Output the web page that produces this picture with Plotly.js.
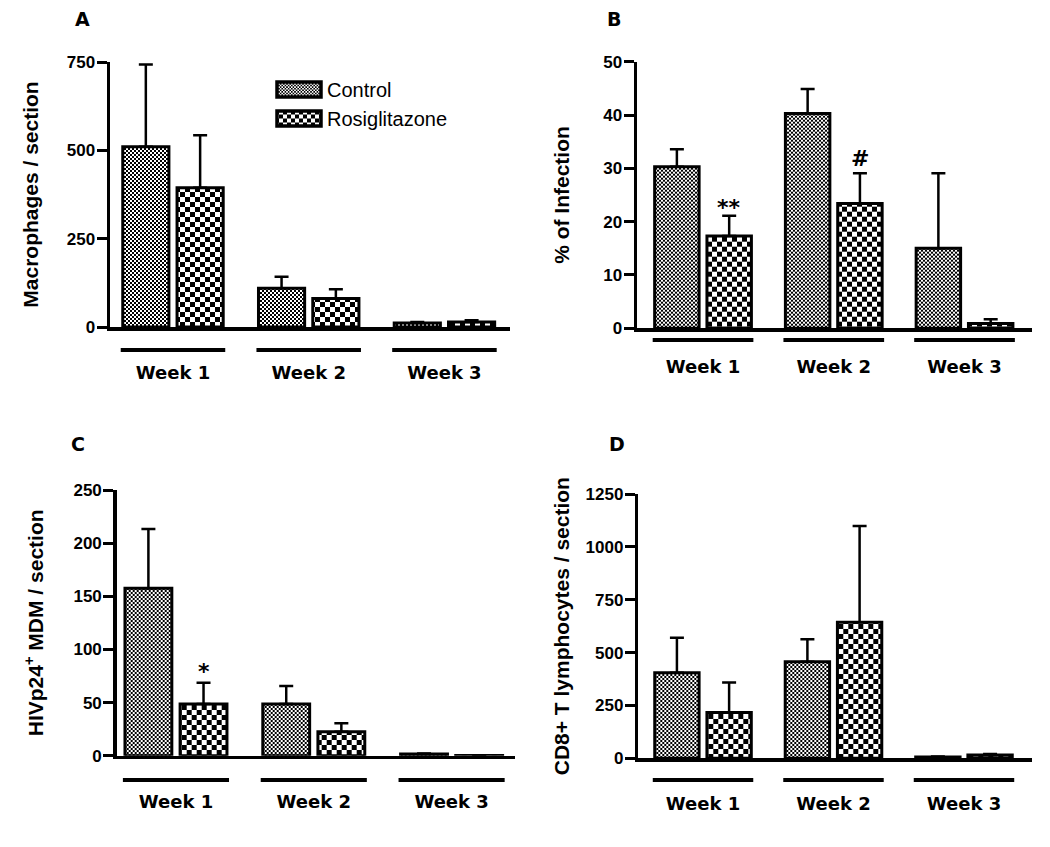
<!DOCTYPE html>
<html>
<head>
<meta charset="utf-8">
<script src="https://cdn.plot.ly/plotly-3.0.1.min.js"></script>
<style>html,body{margin:0;padding:0;background:#fff;}#gd{width:1050px;height:847px;}</style>
</head>
<body>
<div id="gd"></div>
<script>
// ---------- DATA ----------
var categories = ['Week 1', 'Week 2', 'Week 3'];
var seriesNames = ['Control', 'Rosiglitazone'];

// Panel A: Macrophages / section
var macroControl = [510, 110, 11];
var macroControlErr = [233, 32, 3];
var macroRosi = [394, 81, 14];
var macroRosiErr = [149, 26, 5];

// Panel B: % of Infection
var infControl = [30.3, 40.3, 15.0];
var infControlErr = [3.3, 4.6, 14.1];
var infRosi = [17.3, 23.4, 0.9];
var infRosiErr = [3.8, 5.7, 0.8];

// Panel C: HIVp24+ MDM / section
var hivControl = [157.5, 48.6, 1.5];
var hivControlErr = [55.8, 17.0, 0.6];
var hivRosi = [48.6, 22.6, 0.3];
var hivRosiErr = [20.1, 7.9, 0.1];

// Panel D: CD8+ T lymphocytes / section
var cd8Control = [405, 457, 6];
var cd8ControlErr = [165, 106, 3];
var cd8Rosi = [217, 643, 16];
var cd8RosiErr = [142, 456, 4];

var yTicksA = [0, 250, 500, 750];
var yTicksB = [0, 10, 20, 30, 40, 50];
var yTicksC = [0, 50, 100, 150, 200, 250];
var yTicksD = [0, 250, 500, 750, 1000, 1250];

var panelLetters = ['A', 'B', 'C', 'D'];
var yTitles = ['Macrophages / section', '% of Infection',
               'HIVp24<sup>+</sup> MDM / section', 'CD8+ T lymphocytes / section'];
// significance marks: [panel, series index, category index, text]
var sigMarks = [[1, 1, 0, '**'], [1, 1, 1, '#'], [2, 1, 0, '*']];

// ---------- STYLE ----------
var BARGAP = 0.2, GROUPGAP = 0.15;
var tickFont = {family: 'Liberation Sans, Arial', size: 17, weight: 'bold', color: '#000'};
var catFont = {family: 'DejaVu Sans', size: 18, weight: 'bold', color: '#000'};
var titleFont = {family: 'Liberation Sans, Arial', size: 21, weight: 'bold', color: '#000'};
var patControl = {shape: '.', size: 4, solidity: 0.5, fgcolor: '#000', bgcolor: '#fff', fillmode: 'replace'};
var patRosi = {shape: '.', size: 10, solidity: 0.5, fgcolor: '#000', bgcolor: '#fff', fillmode: 'replace'};

var panels = [
  {ctl: macroControl, ctlE: macroControlErr, ros: macroRosi, rosE: macroRosiErr, ticks: yTicksA,
   xdom: [110/1050, 510/1050], ydom: [1-327/847, 1-62/847], xr: [-0.464, 2.483],
   lineY: 1-350/847, standoff: 27, titleStandoff: 23, letterXY: [82.5, 18.5]},
  {ctl: infControl, ctlE: infControlErr, ros: infRosi, rosE: infRosiErr, ticks: yTicksB,
   xdom: [637/1050, 1032/1050], ydom: [1-328.3/847, 1-61.7/847], xr: [-0.505, 2.516],
   lineY: 1-340/847, standoff: 20, titleStandoff: 29, letterXY: [614, 19]},
  {ctl: hivControl, ctlE: hivControlErr, ros: hivRosi, rosE: hivRosiErr, ticks: yTicksC,
   xdom: [116.7/1050, 515/1050], ydom: [1-755.7/847, 1-490/847], xr: [-0.43, 2.46],
   lineY: 1-780/847, standoff: 27, titleStandoff: 25, letterXY: [78, 444]},
  {ctl: cd8Control, ctlE: cd8ControlErr, ros: cd8Rosi, rosE: cd8RosiErr, ticks: yTicksD,
   xdom: [638.3/1050, 1031.7/1050], ydom: [1-758.3/847, 1-494/847], xr: [-0.496, 2.519],
   lineY: 1-780/847, standoff: 27, titleStandoff: 11, letterXY: [616.5, 443.5]}
];

var data = [], shapes = [], annotations = [];
var layout = {
  width: 1050, height: 847,
  margin: {l: 0, r: 0, t: 0, b: 0},
  paper_bgcolor: '#fff', plot_bgcolor: 'rgba(0,0,0,0)',
  barmode: 'group', bargap: BARGAP, bargroupgap: GROUPGAP,
  showlegend: true,
  legend: {x: 271/1050, y: 1-70/847, xanchor: 'left', yanchor: 'top',
           font: {family: 'Liberation Sans, Arial', size: 20, color: '#000'},
           itemwidth: 46, bgcolor: 'rgba(0,0,0,0)', traceorder: 'normal'},
  font: {family: 'Liberation Sans, Arial', color: '#000'}
};

panels.forEach(function (p, k) {
  var n = k === 0 ? '' : String(k + 1);
  var xa = 'x' + n, ya = 'y' + n;
  var vals = [p.ctl, p.ros], errs = [p.ctlE, p.rosE], pats = [patControl, patRosi];
  for (var s = 0; s < 2; s++) {
    data.push({
      type: 'bar', x: categories, y: vals[s], name: seriesNames[s],
      xaxis: xa, yaxis: ya, legendgroup: seriesNames[s], showlegend: k === 0,
      marker: {color: '#fff', line: {color: '#000', width: 3}, pattern: pats[s]},
      error_y: {type: 'data', symmetric: false, array: errs[s],
                arrayminus: errs[s].map(function () { return 0; }),
                color: '#000', thickness: 2.5, width: 7}
    });
  }
  layout['xaxis' + n] = {
    domain: p.xdom, anchor: ya, type: 'category', range: p.xr,
    showline: true, linecolor: '#000', linewidth: 3.5, ticks: '',
    showgrid: false, zeroline: false, tickfont: catFont, ticklabelstandoff: p.standoff
  };
  layout['yaxis' + n] = {
    domain: p.ydom, anchor: xa, range: [0, p.ticks[p.ticks.length - 1]],
    tickvals: p.ticks, ticktext: p.ticks.map(String),
    showline: true, linecolor: '#000', linewidth: 3.5,
    ticks: 'outside', ticklen: 10, tickwidth: 3, tickcolor: '#000',
    showgrid: false, zeroline: false, tickfont: tickFont, ticklabelstandoff: -2,
    title: {text: yTitles[k], font: titleFont, standoff: p.titleStandoff}
  };
  categories.forEach(function (c, i) {
    shapes.push({type: 'line', xref: xa, yref: 'paper', x0: i - 0.385, x1: i + 0.385,
                 y0: p.lineY, y1: p.lineY, line: {color: '#000', width: 4}});
  });
  annotations.push({xref: 'paper', yref: 'paper', x: p.letterXY[0] / 1050, y: 1 - p.letterXY[1] / 847,
                    xanchor: 'center', yanchor: 'middle', showarrow: false, text: panelLetters[k],
                    font: {family: 'DejaVu Sans', size: 19, weight: 'bold', color: '#000'}});
});

var slot = (1 - BARGAP) / 2;
sigMarks.forEach(function (m) {
  var p = panels[m[0]];
  var n = m[0] === 0 ? '' : String(m[0] + 1);
  var v = m[1] === 0 ? p.ctl[m[2]] + p.ctlE[m[2]] : p.ros[m[2]] + p.rosE[m[2]];
  annotations.push({xref: 'x' + n, yref: 'y' + n, x: m[2] + (m[1] - 0.5) * slot, y: v,
                    xanchor: 'center', yanchor: 'bottom', showarrow: false, text: m[3],
                    yshift: m[3] === '#' ? 0 : (m[3] === '**' ? -6 : -3),
                    font: {family: 'DejaVu Sans', size: 22, weight: 'bold', color: '#000'}});
});
layout.shapes = shapes;
layout.annotations = annotations;

// Replace the dot tiles with checkerboard tiles (fine for Control, coarse for Rosiglitazone)
var SVGNS = 'http://www.w3.org/2000/svg';
function checker(pat) {
  var s = parseFloat(pat.getAttribute('width'));
  if (!s || pat.getAttribute('data-checker')) return;
  while (pat.firstChild) pat.removeChild(pat.firstChild);
  var h = s / 2;
  [[0, 0, s, s, '#fff'], [0, 0, h, h, '#000'], [h, h, h, h, '#000']].forEach(function (r) {
    var el = document.createElementNS(SVGNS, 'rect');
    el.setAttribute('x', r[0]); el.setAttribute('y', r[1]);
    el.setAttribute('width', r[2]); el.setAttribute('height', r[3]);
    el.setAttribute('fill', r[4]);
    pat.appendChild(el);
  });
  pat.setAttribute('data-checker', '1');
}
function patch(gd) {
  gd.querySelectorAll('pattern').forEach(checker);
  gd.querySelectorAll('.legendpoints path').forEach(function (p) {
    p.setAttribute('d', 'M22,7.5H-22V-7.5H22Z');
    p.style.strokeWidth = '3.5px';
  });
}
var gd = document.getElementById('gd');
Plotly.newPlot(gd, data, layout, {staticPlot: true, displayModeBar: false}).then(function () {
  patch(gd);
  gd.on('plotly_afterplot', function () { patch(gd); });
});
</script>
</body>
</html>
